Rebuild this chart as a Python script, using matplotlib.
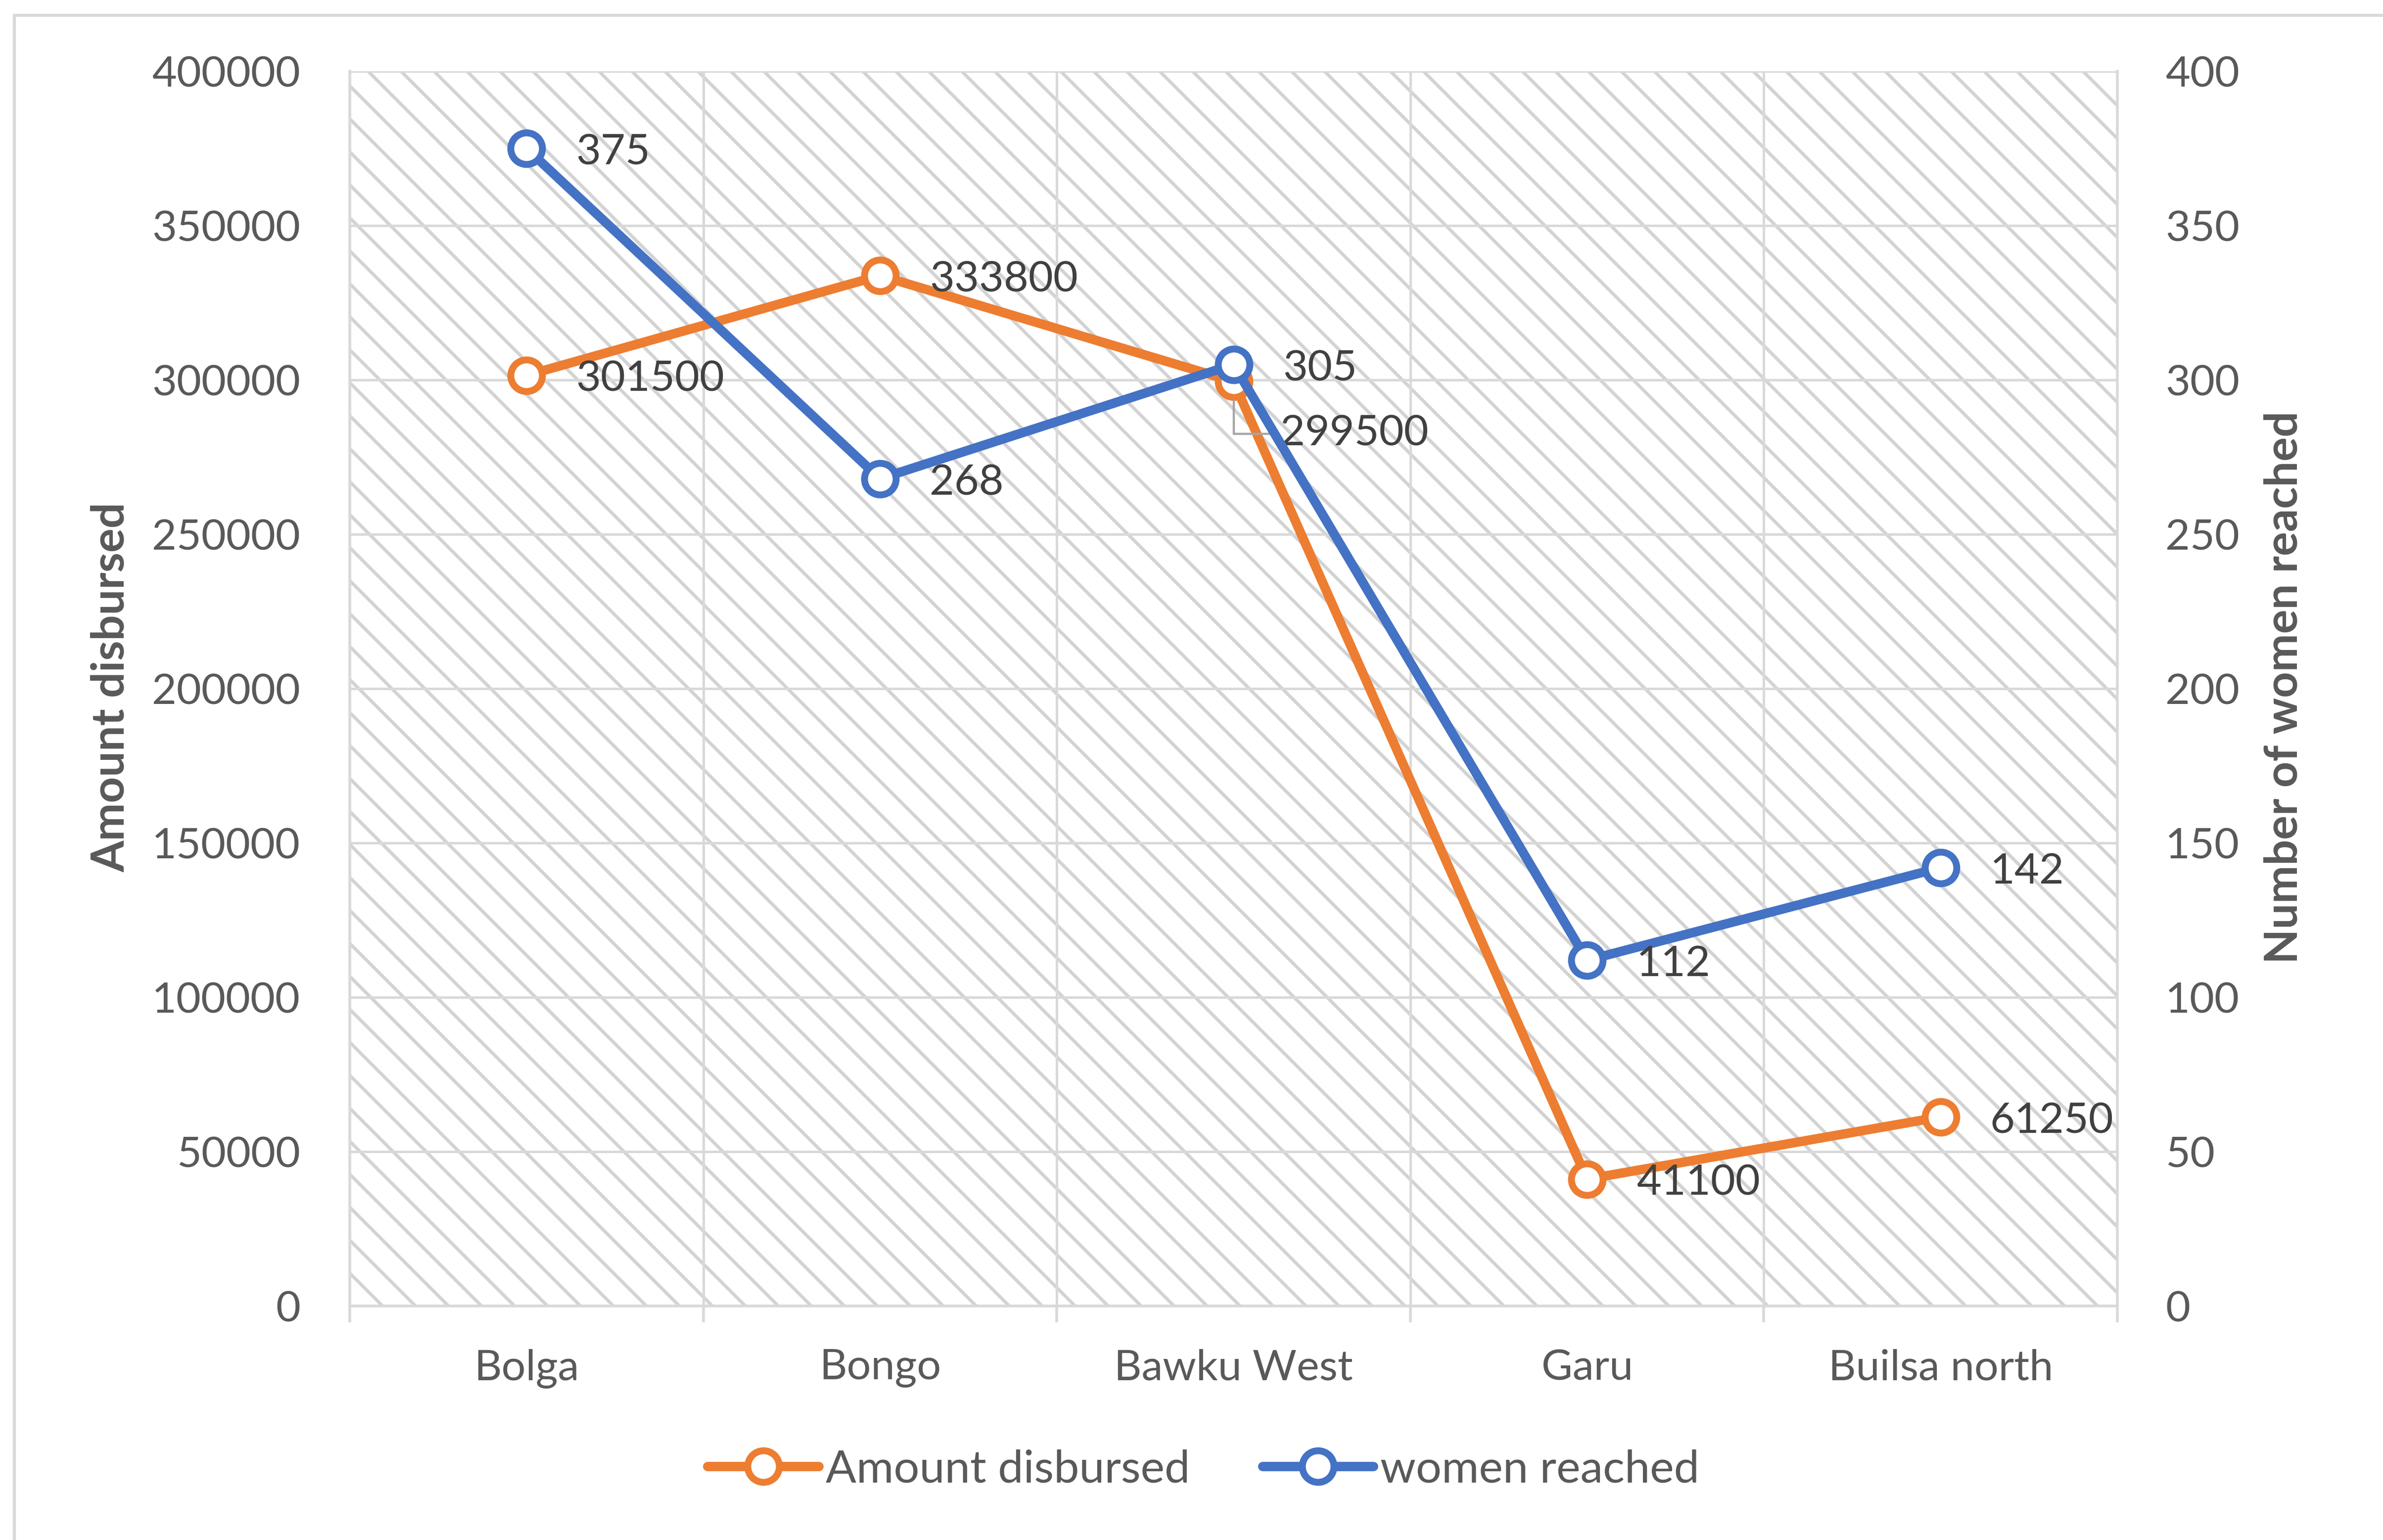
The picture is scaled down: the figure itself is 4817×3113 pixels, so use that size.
import matplotlib
matplotlib.use("Agg")
import matplotlib.pyplot as plt
from matplotlib.patches import Rectangle
from matplotlib.ticker import FuncFormatter, MultipleLocator

# data
districts = ["Bolga", "Bongo", "Bawku West", "Garu", "Builsa north"]
amount_disbursed = [301500, 333800, 299500, 41100, 61250]
women_reached = [375, 268, 305, 112, 142]

ORANGE = "#ED7D31"
BLUE = "#4472C4"
GRID = "#D9D9D9"
HATCH = "#D3D3D3"
TICK_TXT = "#595959"
LABEL_TXT = "#404040"
FS = 31

plt.rcParams.update({
    "font.family": ["Lato", "DejaVu Sans"],
    "hatch.color": HATCH,
    "hatch.linewidth": 2.4,
})

# dpi 200 so one hatch unit (1 inch) gives the reference's hatch spacing
DPI = 200
W, H = 4817, 3113
fig = plt.figure(figsize=(W / DPI, H / DPI), dpi=DPI)

# outer chart frame: only the top-left corner is inside the picture
fig.patches.append(Rectangle((29 / W, -0.05), 1.2, 1 - 31 / H + 0.05,
                             transform=fig.transFigure, fill=False,
                             edgecolor=GRID, linewidth=2.2))

ax = fig.add_axes([707 / W, 1 - 2640 / H, (4280 - 707) / W, (2640 - 144) / H])
ax.patch.set_hatch("\\")
ax.patch.set_edgecolor(HATCH)
ax.patch.set_linewidth(0)

x = list(range(len(districts)))

ax.set_xlim(-0.5, len(districts) - 0.5)
ax.set_ylim(0, 400000)
ax.yaxis.set_major_locator(MultipleLocator(50000))
ax.yaxis.set_major_formatter(FuncFormatter(lambda v, _: f"{v:.0f}"))
ax.set_xticks(x)
ax.set_xticklabels(districts)
ax.set_xticks([i - 0.5 for i in range(len(districts) + 1)], minor=True)
ax.grid(axis="y", color=GRID, lw=1.8, zorder=0)
ax.grid(axis="x", which="minor", color=GRID, lw=1.8, zorder=0)
ax.set_axisbelow(True)
ax.tick_params(axis="x", which="major", length=0, pad=31,
               labelsize=FS, labelcolor=TICK_TXT)
ax.tick_params(axis="x", which="minor", length=12, width=2, color=GRID)
ax.tick_params(axis="y", length=0, pad=36, labelsize=FS, labelcolor=TICK_TXT)
ax.spines["top"].set_visible(False)
for side in ["left", "right", "bottom"]:
    ax.spines[side].set_color(GRID)
    ax.spines[side].set_linewidth(2)

ax2 = ax.twinx()
ax2.set_ylim(0, 400)
ax2.yaxis.set_major_locator(MultipleLocator(50))
ax2.tick_params(axis="y", length=0, pad=35, labelsize=FS, labelcolor=TICK_TXT)
for s in ax2.spines.values():
    s.set_visible(False)

line_kw = dict(lw=6.8, marker="o", ms=23, mfc="white", mew=5,
               solid_capstyle="round", solid_joinstyle="round", zorder=3)
ax.plot(x, amount_disbursed, color=ORANGE, mec=ORANGE,
        label="Amount disbursed", **line_kw)
ax2.plot(x, women_reached, color=BLUE, mec=BLUE,
         label="women reached", **line_kw)

# data labels to the right of each point
for i, v in enumerate(amount_disbursed):
    if districts[i] == "Bawku West":
        # label dragged below-right, with a leader line
        ax.annotate(str(v), (i, v), xytext=(34, -38),
                    textcoords="offset points", ha="left", va="center",
                    fontsize=FS, color=LABEL_TXT,
                    arrowprops=dict(arrowstyle="-", color="#A6A6A6", lw=1.6,
                                    connectionstyle="angle,angleA=0,angleB=90,rad=0",
                                    relpos=(0, 0.5), shrinkA=0, shrinkB=14))
        continue
    ax.annotate(str(v), (i, v), xytext=(36, -3), textcoords="offset points",
                ha="left", va="center", fontsize=FS, color=LABEL_TXT)
for i, v in enumerate(women_reached):
    ax2.annotate(str(v), (i, v), xytext=(36, -3), textcoords="offset points",
                 ha="left", va="center", fontsize=FS, color=LABEL_TXT)

# axis titles
fig.text(225 / W, 1 - 1389 / H, "Amount disbursed", rotation=90,
         ha="center", va="center", fontsize=33, fontweight="bold", color=TICK_TXT)
fig.text(4617 / W, 1 - 1389 / H, "Number of women reached", rotation=90,
         ha="center", va="center", fontsize=33, fontweight="bold", color=TICK_TXT)

h1, l1 = ax.get_legend_handles_labels()
h2, l2 = ax2.get_legend_handles_labels()
fig.legend(h1 + h2, l1 + l2, loc="center", bbox_to_anchor=(0.505, 1 - 2971 / H),
           ncol=2, frameon=False, fontsize=33, handlelength=2.45,
           handletextpad=0.15, columnspacing=1.6, labelcolor=TICK_TXT)

fig.savefig("out.png", dpi=DPI)
